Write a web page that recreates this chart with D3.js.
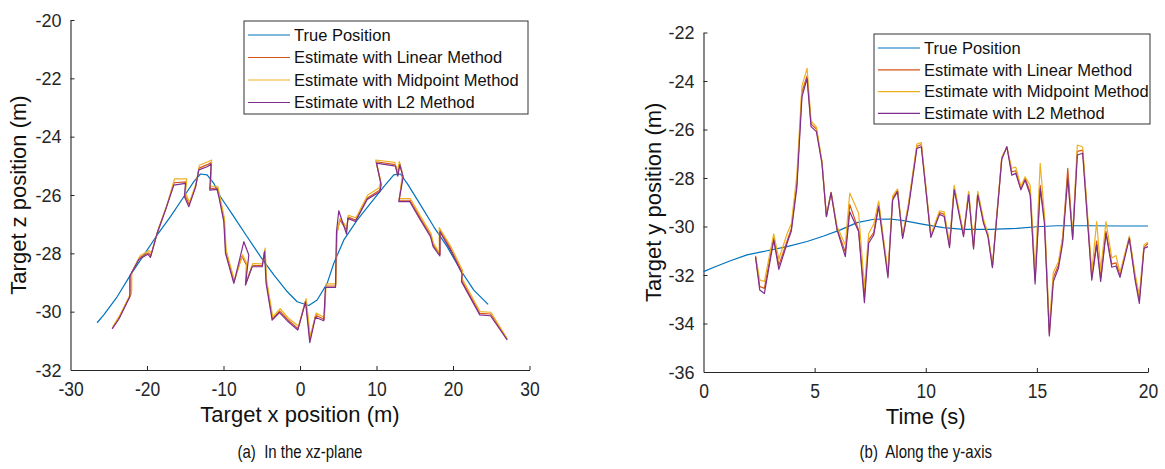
<!DOCTYPE html>
<html><head><meta charset="utf-8">
<script src="https://cdn.jsdelivr.net/npm/d3@7"></script>
<style>
body{margin:0;background:#fff;}
svg{display:block;font-family:"Liberation Sans",Arial,Helvetica,sans-serif;}
</style></head>
<body><svg id="c" width="1165" height="469"></svg>
<script>
// ---------- Data: (a) xz-plane ----------
const trueX = [-26.52,-25.65,-23.90,-22.16,-20.42,-18.67,-16.93,-15.19,-13.88,-13.01,-12.14,-11.27,-10.40,-8.65,-6.91,-5.17,-3.42,-1.68,-0.37,1.15,2.24,3.55,4.42,5.73,7.47,9.21,10.96,12.26,13.13,14.01,15.75,17.49,19.23,20.98,22.72,24.59];
const trueZ = [-30.38,-30.11,-29.49,-28.74,-28.06,-27.37,-26.74,-26.06,-25.54,-25.28,-25.31,-25.60,-26.06,-26.74,-27.43,-28.11,-28.74,-29.31,-29.66,-29.79,-29.60,-29.03,-28.34,-27.54,-26.86,-26.29,-25.71,-25.31,-25.28,-25.60,-26.34,-27.09,-27.77,-28.57,-29.26,-29.75];

const linX = [-24.50,-23.62,-22.10,-22.10,-21.00,-19.80,-19.50,-18.60,-17.50,-16.45,-14.90,-15.05,-14.50,-13.62,-13.20,-12.10,-11.58,-11.75,-10.80,-10.58,-9.92,-9.70,-8.62,-7.60,-7.00,-7.10,-6.22,-4.92,-4.60,-4.40,-3.60,-2.65,-1.65,-0.25,0.75,1.30,2.05,3.15,3.36,4.66,4.80,5.20,6.10,6.28,7.28,8.80,10.40,10.58,9.95,12.45,12.76,13.02,13.45,12.95,14.38,15.78,17.08,17.42,18.30,18.30,19.70,21.22,21.14,23.52,24.92,27.08];
const linZ = [-30.55,-30.20,-29.40,-28.72,-28.15,-27.98,-28.08,-27.25,-26.45,-25.58,-25.55,-26.00,-26.32,-25.68,-25.08,-24.96,-24.88,-25.78,-25.76,-26.00,-26.85,-27.95,-28.98,-28.10,-28.40,-29.05,-28.42,-28.42,-27.90,-28.98,-30.25,-29.98,-30.26,-30.58,-29.62,-30.95,-30.12,-30.26,-29.12,-29.12,-27.35,-26.85,-27.20,-26.76,-26.86,-26.10,-25.84,-25.60,-24.86,-24.96,-25.30,-24.92,-25.34,-26.18,-26.18,-26.82,-27.38,-27.72,-28.04,-27.20,-27.84,-28.66,-28.92,-30.06,-30.08,-30.95];

const midX = [-24.45,-23.55,-22.00,-22.00,-20.90,-19.72,-19.42,-18.50,-17.40,-16.40,-14.80,-14.98,-14.45,-13.58,-13.15,-12.05,-11.55,-11.70,-10.75,-10.55,-9.88,-9.65,-8.58,-7.50,-6.95,-7.05,-6.18,-4.88,-4.56,-4.36,-3.56,-2.60,-1.60,-0.20,0.80,1.34,2.10,3.20,3.40,4.70,4.85,5.25,6.15,6.32,7.32,8.85,10.35,10.55,9.90,12.40,12.72,12.98,13.40,12.98,14.42,15.82,17.12,17.46,18.20,18.20,19.74,21.26,21.18,23.55,24.95,27.08];
const midZ = [-30.50,-30.12,-29.30,-28.65,-28.08,-27.90,-28.00,-27.15,-26.35,-25.45,-25.45,-25.92,-26.25,-25.60,-24.98,-24.86,-24.80,-25.70,-25.70,-25.95,-26.80,-27.90,-28.92,-28.05,-28.35,-29.00,-28.35,-28.36,-27.82,-28.92,-30.18,-29.90,-30.20,-30.50,-29.55,-30.85,-30.05,-30.20,-29.05,-29.05,-27.30,-26.80,-27.12,-26.70,-26.78,-26.00,-25.75,-25.52,-24.80,-24.88,-25.22,-24.85,-25.28,-26.12,-26.12,-26.76,-27.32,-27.66,-27.98,-27.12,-27.78,-28.60,-28.86,-30.00,-30.02,-30.92];

const l2X = [-24.56,-23.69,-22.25,-22.25,-21.07,-19.89,-19.55,-18.67,-17.58,-16.50,-14.97,-15.10,-14.53,-13.66,-13.23,-12.14,-11.61,-11.79,-10.83,-10.61,-9.96,-9.74,-8.65,-7.34,-6.69,-7.13,-6.26,-4.95,-4.64,-4.43,-3.64,-2.68,-1.68,-0.29,0.72,1.28,2.02,3.11,3.33,4.64,4.77,5.07,6.08,6.25,7.25,8.78,10.43,10.61,10.00,12.48,12.79,13.05,13.48,12.92,14.35,15.75,17.06,17.40,18.28,18.28,19.67,21.20,21.11,23.50,24.90,27.08];
const l2Z = [-30.59,-30.26,-29.49,-28.78,-28.21,-28.03,-28.14,-27.31,-26.51,-25.66,-25.60,-26.06,-26.40,-25.74,-25.14,-25.03,-24.94,-25.83,-25.81,-26.06,-26.91,-28.00,-29.03,-27.60,-28.06,-29.09,-28.46,-28.46,-27.94,-29.03,-30.29,-30.03,-30.31,-30.63,-29.66,-31.06,-30.19,-30.31,-29.17,-29.17,-27.26,-26.54,-27.34,-26.80,-26.91,-26.15,-25.89,-25.66,-24.91,-25.01,-25.35,-24.97,-25.39,-26.23,-26.23,-26.86,-27.43,-27.77,-28.09,-27.26,-27.89,-28.71,-28.97,-30.11,-30.14,-30.97];

// ---------- Data: (b) along y-axis ----------
const trueT = [0,0.47,1.21,1.96,2.86,3.76,4.66,5.41,6.16,6.91,7.66,8.40,9.00,9.90,10.80,11.70,12.90,14.10,15.00,15.90,17.39,18.89,20.0];
const trueY = [-31.86,-31.68,-31.41,-31.17,-31.00,-30.83,-30.62,-30.39,-30.14,-29.84,-29.70,-29.69,-29.76,-29.91,-30.05,-30.12,-30.12,-30.08,-30.01,-29.97,-29.97,-29.98,-29.98];

const estT = [2.34,2.53,2.74,3.16,3.39,3.76,3.95,4.20,4.43,4.66,4.84,5.08,5.33,5.53,5.74,6.01,6.38,6.58,6.98,7.24,7.43,7.66,7.88,8.30,8.51,8.73,8.96,9.23,9.60,9.80,10.23,10.62,10.83,11.07,11.28,11.70,11.93,12.15,12.34,12.60,12.80,13.00,13.42,13.65,13.87,14.05,14.28,14.47,14.70,14.92,15.15,15.34,15.56,15.74,15.97,16.16,16.39,16.61,16.82,17.06,17.47,17.69,17.87,18.11,18.37,18.56,18.74,19.16,19.42,19.61,19.82,20.00];
const linY = [-31.24,-32.48,-32.55,-30.45,-31.60,-30.60,-30.10,-28.20,-24.45,-23.79,-25.78,-25.98,-27.35,-29.59,-28.60,-30.10,-31.05,-29.10,-30.15,-32.90,-30.55,-30.25,-29.05,-32.00,-28.85,-28.50,-30.45,-29.10,-26.70,-26.62,-30.40,-29.42,-29.50,-30.80,-28.40,-30.35,-28.60,-30.85,-28.62,-29.80,-30.35,-31.65,-27.18,-26.72,-27.75,-27.70,-28.42,-28.00,-28.60,-32.20,-28.30,-29.70,-34.40,-32.10,-31.60,-30.55,-27.60,-30.45,-26.90,-26.85,-32.10,-30.60,-32.15,-30.20,-31.55,-31.50,-32.00,-30.45,-32.10,-33.00,-30.85,-30.70];
const midY = [-31.20,-32.20,-32.27,-30.30,-31.35,-30.30,-29.90,-27.90,-24.20,-23.48,-25.65,-25.90,-27.30,-29.55,-28.58,-30.00,-30.76,-28.62,-29.45,-32.50,-30.30,-29.90,-28.95,-31.90,-28.75,-28.45,-30.40,-29.00,-26.60,-26.54,-30.35,-29.35,-29.40,-30.70,-28.30,-30.30,-28.55,-30.80,-28.55,-29.70,-30.30,-31.60,-27.15,-26.74,-27.60,-27.55,-28.35,-27.95,-28.30,-31.90,-27.40,-29.50,-34.13,-31.90,-31.45,-30.40,-28.00,-30.30,-26.64,-26.72,-31.90,-29.80,-31.80,-29.80,-31.30,-31.20,-31.90,-30.40,-31.95,-32.85,-30.75,-30.65];
const l2Y = [-31.24,-32.62,-32.76,-30.56,-31.77,-30.69,-30.20,-28.40,-24.65,-23.89,-25.88,-26.09,-27.40,-29.59,-28.60,-30.14,-31.24,-29.39,-30.21,-33.14,-30.69,-30.35,-29.18,-32.11,-28.91,-28.56,-30.49,-29.18,-26.78,-26.71,-30.45,-29.50,-29.59,-30.87,-28.49,-30.42,-28.70,-30.93,-28.70,-29.87,-30.42,-31.70,-27.23,-26.71,-27.88,-27.81,-28.49,-28.08,-28.70,-32.37,-28.43,-29.87,-34.51,-32.27,-31.72,-30.69,-28.00,-30.53,-27.05,-26.98,-32.21,-30.76,-32.27,-30.28,-31.68,-31.63,-32.10,-30.49,-32.21,-33.17,-30.90,-30.83];

// ---------- Labels / ticks ----------
const legendNames = ["True Position","Estimate with Linear Method","Estimate with Midpoint Method","Estimate with L2 Method"];
const seriesColors = ["#0072BD","#D95319","#EDB120","#7E2F8E"];
const xzXTicks = [-30,-20,-10,0,10,20,30];
const xzZTicks = [-32,-30,-28,-26,-24,-22,-20];
const tTicks = [0,5,10,15,20];
const yTicks = [-36,-34,-32,-30,-28,-26,-24,-22];

const svg = d3.select("#c");
const axisColor = "#262626";
const fmt = d => String(d);

function zip(a,b){ return a.map((v,i)=>[v,b[i]]); }

function panel(cfg){
  const g = svg.append("g");
  const x = d3.scaleLinear().domain(cfg.xDomain).range(cfg.xRange);
  const y = d3.scaleLinear().domain(cfg.yDomain).range(cfg.yRange);
  const line = d3.line().x(d=>x(d[0])).y(d=>y(d[1]));

  // axes
  const xa = g.append("g").attr("transform",`translate(0,${cfg.yRange[0]})`)
    .call(d3.axisBottom(x).tickValues(cfg.xTicks).tickSizeInner(-4).tickSizeOuter(0).tickPadding(10).tickFormat(fmt));
  const ya = g.append("g").attr("transform",`translate(${cfg.xRange[0]},0)`)
    .call(d3.axisLeft(y).tickValues(cfg.yTicks).tickSizeInner(-4).tickSizeOuter(0).tickPadding(9).tickFormat(fmt));
  [xa,ya].forEach(a=>{
    a.select(".domain").attr("stroke",axisColor).attr("stroke-width",1.1);
    a.selectAll(".tick line").attr("stroke",axisColor).attr("stroke-width",1);
    a.selectAll(".tick text").attr("fill",axisColor).style("font-size","18px").style("font-family",null);
  });
  xa.selectAll(".tick text").attr("dy",null).attr("y",0)
    .attr("transform","translate(0,26) scale(0.97,1.08)");
  ya.selectAll(".tick text").attr("dy","0.35em");
  ya.selectAll(".tick").filter(d=>d===cfg.yDomain[0]).select("line").remove();
  xa.selectAll(".tick").filter(d=>d===cfg.xDomain[0]).select("line").remove();

  // lines
  cfg.series.forEach((s,i)=>{
    g.append("path").datum(s).attr("d",line).attr("fill","none")
      .attr("stroke",seriesColors[i]).attr("stroke-width",1.2).attr("stroke-linejoin","round");
  });

  // axis labels
  const cx = (cfg.xRange[0]+cfg.xRange[1])/2;
  const cy = (cfg.yRange[0]+cfg.yRange[1])/2;
  g.append("text").attr("x",cx).attr("y",cfg.yRange[0]+52)
    .attr("text-anchor","middle").style("font-size","22px").attr("fill","#111").text(cfg.xLabel);
  g.append("text").attr("transform",`translate(${cfg.yLabelX},${cy}) rotate(-90)`)
    .attr("text-anchor","middle").style("font-size","22px").attr("fill","#111").text(cfg.yLabel);
  g.append("text").attr("transform",`translate(${cx},${458}) scale(1,1.2)`)
    .attr("text-anchor","middle").style("font-size","15px").attr("fill","#111")
    .attr("xml:space","preserve").text(cfg.caption);

  // legend
  const L = cfg.legend;
  const lg = g.append("g");
  lg.append("rect").attr("x",L.x).attr("y",L.y).attr("width",L.w).attr("height",L.h)
    .attr("fill","#fff").attr("stroke","#333").attr("stroke-width",1);
  legendNames.forEach((n,i)=>{
    const yy = L.y + L.first + i*L.step;
    lg.append("line").attr("x1",L.x+4).attr("x2",L.x+46).attr("y1",yy).attr("y2",yy)
      .attr("stroke",seriesColors[i]).attr("stroke-width",1.2);
    lg.append("text").attr("x",L.x+50).attr("y",yy).attr("dy","0.35em")
      .style("font-size","16.5px").attr("fill","#111").text(n);
  });
}

panel({
  xDomain:[-30,30], yDomain:[-32,-20], xRange:[70.5,529.5], yRange:[370,20],
  xTicks:xzXTicks, yTicks:xzZTicks,
  series:[zip(trueX,trueZ),zip(linX,linZ),zip(midX,midZ),zip(l2X,l2Z)],
  xLabel:"Target x position (m)", yLabel:"Target z position (m)", yLabelX:26,
  caption:"(a)  In the xz-plane",
  legend:{x:244,y:21,w:284,h:93,first:14,step:22.5}
});
panel({
  xDomain:[0,20], yDomain:[-36,-22], xRange:[703.5,1148], yRange:[372,32.5],
  xTicks:tTicks, yTicks:yTicks,
  series:[zip(trueT,trueY),zip(estT,linY),zip(estT,midY),zip(estT,l2Y)],
  xLabel:"Time (s)", yLabel:"Target y position (m)", yLabelX:661,
  caption:"(b)  Along the y-axis",
  legend:{x:874,y:34,w:276,h:90,first:14,step:21.8}
});
</script></body></html>
